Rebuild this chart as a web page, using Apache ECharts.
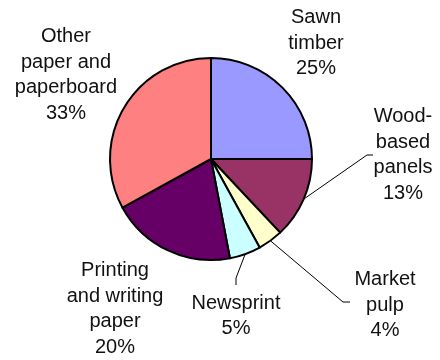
<!DOCTYPE html>
<html>
<head>
<meta charset="utf-8">
<script src="https://cdn.jsdelivr.net/npm/echarts@6/dist/echarts.min.js"></script>
<style>
  html, body { margin: 0; padding: 0; background: #ffffff; }
  #chart { width: 440px; height: 360px; }
</style>
</head>
<body>
<div id="chart"></div>
<script>
// Product categories and their shares (%)
const categories = ['Sawn timber', 'Wood-based panels', 'Market pulp', 'Newsprint', 'Printing and writing paper', 'Other paper and paperboard'];
const shares = [25, 13, 4, 5, 20, 33];
// Wrapped label text for each category
const wrappedNames = ['Sawn\ntimber', 'Wood-\nbased\npanels', 'Market\npulp', 'Newsprint', 'Printing\nand writing\npaper', 'Other\npaper and\npaperboard'];
const colors = ['#9999FF', '#993366', '#FFFFCC', '#CCFFFF', '#660066', '#FF8080'];

// Label block centres and leader-line routes (layout only)
const labelPos = [
  { x: 316, y: 43 },
  { x: 403, y: 155 },
  { x: 385, y: 305 },
  { x: 236, y: 316 },
  { x: 115, y: 309 },
  { x: 66,  y: 75 }
];
const leaderRoutes = [
  null,
  [[367, 155], [373, 155]],
  [[343, 302], [350, 302]],
  [[236, 278], [236, 285]],
  null,
  null
];

const chart = echarts.init(document.getElementById('chart'), null, { renderer: 'canvas' });

chart.setOption({
  animation: false,
  backgroundColor: '#ffffff',
  series: [{
    type: 'pie',
    center: [211, 159],
    radius: 101,
    startAngle: 90,
    clockwise: true,
    avoidLabelOverlap: false,
    data: categories.map((name, i) => ({
      name: name,
      value: shares[i],
      itemStyle: { color: colors[i] },
      labelLine: { show: leaderRoutes[i] !== null }
    })),
    itemStyle: { borderColor: '#000000', borderWidth: 2 },
    label: {
      show: true,
      position: 'outside',
      color: '#111111',
      fontFamily: 'Liberation Sans, Arial, sans-serif',
      fontSize: 20,
      lineHeight: 25.5,
      align: 'center',
      formatter: p => wrappedNames[p.dataIndex] + '\n' + Math.round(p.percent) + '%'
    },
    labelLine: {
      show: true,
      length: 10,
      length2: 10,
      lineStyle: { color: '#000000', width: 1 }
    },
    labelLayout: function (params) {
      const i = params.dataIndex;
      const out = {
        x: labelPos[i].x,
        y: labelPos[i].y,
        align: 'center',
        verticalAlign: 'middle'
      };
      if (leaderRoutes[i] && params.labelLinePoints) {
        out.labelLinePoints = [params.labelLinePoints[0], leaderRoutes[i][0], leaderRoutes[i][1]];
      }
      return out;
    }
  }]
});
</script>
</body>
</html>
